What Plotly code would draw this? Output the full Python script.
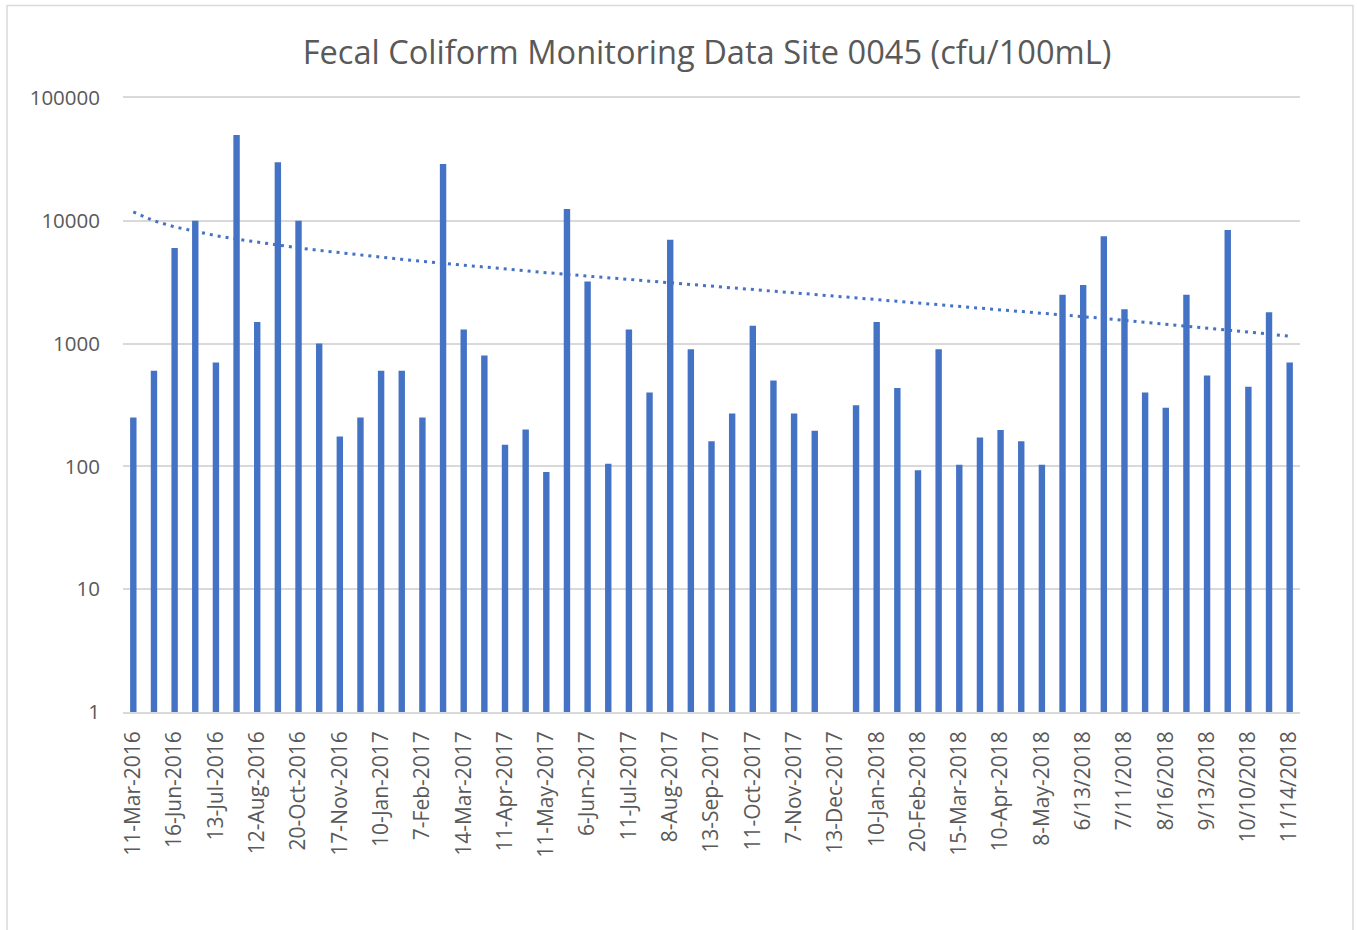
import numpy as np
import plotly.graph_objects as go

# ---- data ----
dates = [
    "11-Mar-2016", "12-May-2016", "16-Jun-2016", "28-Jun-2016", "13-Jul-2016", "27-Jul-2016",
    "12-Aug-2016", "15-Sep-2016", "20-Oct-2016", "3-Nov-2016", "17-Nov-2016", "13-Dec-2016",
    "10-Jan-2017", "24-Jan-2017", "7-Feb-2017", "21-Feb-2017", "14-Mar-2017", "28-Mar-2017",
    "11-Apr-2017", "25-Apr-2017", "11-May-2017", "23-May-2017", "6-Jun-2017", "20-Jun-2017",
    "11-Jul-2017", "25-Jul-2017", "8-Aug-2017", "22-Aug-2017", "13-Sep-2017", "27-Sep-2017",
    "11-Oct-2017", "25-Oct-2017", "7-Nov-2017", "21-Nov-2017", "13-Dec-2017", "27-Dec-2017",
    "10-Jan-2018", "6-Feb-2018", "20-Feb-2018", "6-Mar-2018", "15-Mar-2018", "27-Mar-2018",
    "10-Apr-2018", "24-Apr-2018", "8-May-2018", "22-May-2018", "6/13/2018", "6/27/2018",
    "7/11/2018", "7/25/2018", "8/16/2018", "8/29/2018", "9/13/2018", "9/26/2018",
    "10/10/2018", "10/24/2018", "11/14/2018",
]
fecal_coliform = [
    250, 600, 6000, 10000, 700, 50000, 1500, 30000, 10000, 1000,
    175, 250, 600, 600, 250, 29000, 1300, 800, 150, 200,
    90, 12500, 3200, 105, 1300, 400, 7000, 900, 160, 270,
    1400, 500, 270, 195, None, 315, 1500, 435, 93, 900,
    103, 172, 198, 160, 103, 2500, 3000, 7500, 1900, 400,
    300, 2500, 550, 8400, 445, 1800, 700,
]
tick_labels = dates[::2]
y_tick_values = [1, 10, 100, 1000, 10000, 100000]
y_tick_text = ["1", "10", "100", "1000", "10000", "100000"]
title_text = "Fecal Coliform Monitoring Data Site 0045 (cfu/100mL)"

# ---- logarithmic trendline (Excel-style: y = a*ln(x) + b, x = 1..n) ----
idx = np.arange(1, len(dates) + 1, dtype=float)
mask = np.array([v is not None for v in fecal_coliform])
vals = np.array([v if v is not None else np.nan for v in fecal_coliform], dtype=float)
a, b = np.polyfit(np.log(idx[mask]), vals[mask], 1)
trend = a * np.log(idx) + b

BLUE = "#4472C4"
GRAY_TXT = "#595959"
GRID = "#d9d9d9"
FONT = "Open Sans"

fig = go.Figure()
fig.add_trace(go.Bar(x=dates, y=fecal_coliform, marker=dict(color=BLUE, line=dict(width=0)),
                     showlegend=False))
fig.add_trace(go.Scatter(x=dates, y=trend, mode="lines",
                         line=dict(color=BLUE, width=3, dash="3px,5px"),
                         showlegend=False, hoverinfo="skip"))

W, H = 1357, 930
L, R, T, B = 123, 1300, 98, 712
pw, ph = R - L, B - T

fig.update_layout(
    width=W, height=H,
    margin=dict(l=L, r=W - R, t=T, b=H - B, pad=0),
    paper_bgcolor="white", plot_bgcolor="white",
    bargap=0.69,
    font=dict(family=FONT, color=GRAY_TXT),
    title=dict(text=title_text, font=dict(family=FONT, size=32.6, color=GRAY_TXT),
               x=(707 - L) / pw, xref="paper", xanchor="center",
               y=1 - 53 / H, yref="container", yanchor="middle"),
    xaxis=dict(type="category", range=[-0.5, len(dates) - 0.5],
               tickmode="array", tickvals=tick_labels, ticktext=tick_labels,
               tickangle=-90, tickfont=dict(family=FONT, size=21, color=GRAY_TXT),
               showgrid=False, zeroline=False, showline=True, mirror=True,
               linecolor=GRID, linewidth=1.5,
               ticks="", ticklabelstandoff=9),
    yaxis=dict(type="log", range=[0, 5], tickmode="array",
               tickvals=y_tick_values, ticktext=y_tick_text,
               tickfont=dict(family=FONT, size=20.5, color=GRAY_TXT),
               showgrid=True, gridcolor=GRID, gridwidth=1.5,
               zeroline=False, showline=False, ticks="", ticklabelstandoff=22),
    shapes=[dict(type="rect", xref="paper", yref="paper",
                 x0=(7 - L) / pw, x1=(1353 - L) / pw,
                 y0=(B - 945) / ph, y1=(B - 5.5) / ph,
                 line=dict(color=GRID, width=1.5), fillcolor="rgba(0,0,0,0)", layer="below")],
)

fig.write_html("out.html", config={"displayModeBar": False},
               post_script="document.body.style.margin='0';document.body.style.overflow='hidden';")
